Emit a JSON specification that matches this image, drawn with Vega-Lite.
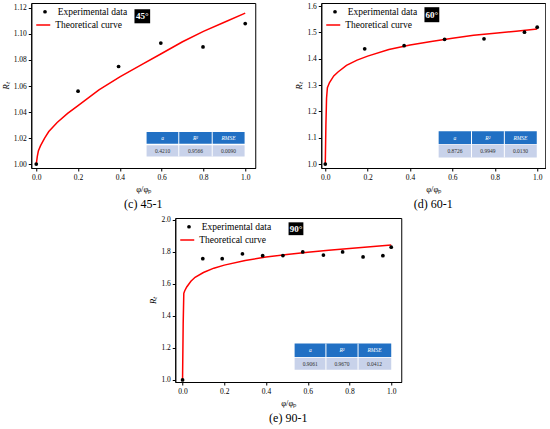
{
  "$schema": "https://vega.github.io/schema/vega-lite/v6.json",
  "padding": {"left": 0, "top": 1, "right": 0, "bottom": 0},
  "background": "white",
  "config": {
    "font": "Liberation Serif",
    "view": {"stroke": "black", "strokeWidth": 1},
    "axis": {
      "labelFont": "Liberation Serif", "labelFontSize": 7.5, "labelColor": "black", "labelOverlap": false,
      "titleFont": "Liberation Serif", "titleFontSize": 8.5, "titleFontWeight": "normal", "titleColor": "black",
      "domainColor": "black", "tickColor": "black", "tickSize": 3, "grid": false, "labelPadding": 2
    },
    "axisY": {"tickCount": 7, "titlePadding": 3},
    "axisX": {"tickCount": 6},
    "legend": {
      "labelFont": "Liberation Serif", "labelFontSize": 9.5, "labelColor": "black", "title": null,
      "orient": "none", "padding": 0
    },
    "title": {"font": "Liberation Serif", "fontSize": 12, "fontWeight": "normal", "color": "black", "orient": "bottom", "anchor": "middle", "offset": 6}
  },
  "datasets": {
    "exp": [
      {"panel": "c", "r": 0, "rt": 1.000, "series": "Experimental data"},
      {"panel": "c", "r": 0.200, "rt": 1.056, "series": "Experimental data"},
      {"panel": "c", "r": 0.394, "rt": 1.075, "series": "Experimental data"},
      {"panel": "c", "r": 0.596, "rt": 1.093, "series": "Experimental data"},
      {"panel": "c", "r": 0.798, "rt": 1.090, "series": "Experimental data"},
      {"panel": "c", "r": 1.000, "rt": 1.108, "series": "Experimental data"},
      {"panel": "d", "r": 0, "rt": 1.000, "series": "Experimental data"},
      {"panel": "d", "r": 0.186, "rt": 1.438, "series": "Experimental data"},
      {"panel": "d", "r": 0.372, "rt": 1.450, "series": "Experimental data"},
      {"panel": "d", "r": 0.563, "rt": 1.474, "series": "Experimental data"},
      {"panel": "d", "r": 0.749, "rt": 1.476, "series": "Experimental data"},
      {"panel": "d", "r": 0.940, "rt": 1.501, "series": "Experimental data"},
      {"panel": "d", "r": 1.000, "rt": 1.520, "series": "Experimental data"},
      {"panel": "e", "r": 0, "rt": 1.000, "series": "Experimental data"},
      {"panel": "e", "r": 0.097, "rt": 1.756, "series": "Experimental data"},
      {"panel": "e", "r": 0.190, "rt": 1.756, "series": "Experimental data"},
      {"panel": "e", "r": 0.287, "rt": 1.786, "series": "Experimental data"},
      {"panel": "e", "r": 0.384, "rt": 1.775, "series": "Experimental data"},
      {"panel": "e", "r": 0.481, "rt": 1.776, "series": "Experimental data"},
      {"panel": "e", "r": 0.576, "rt": 1.798, "series": "Experimental data"},
      {"panel": "e", "r": 0.675, "rt": 1.779, "series": "Experimental data"},
      {"panel": "e", "r": 0.767, "rt": 1.798, "series": "Experimental data"},
      {"panel": "e", "r": 0.865, "rt": 1.767, "series": "Experimental data"},
      {"panel": "e", "r": 0.960, "rt": 1.775, "series": "Experimental data"},
      {"panel": "e", "r": 1.000, "rt": 1.828, "series": "Experimental data"}
    ],
    "theory": [
      {"panel": "c", "r": 0, "rt": 1.000, "series": "Theoretical curve"}, {"panel": "c", "r": 0.005, "rt": 1.006, "series": "Theoretical curve"}, {"panel": "c", "r": 0.01, "rt": 1.010, "series": "Theoretical curve"},
      {"panel": "c", "r": 0.02, "rt": 1.014, "series": "Theoretical curve"}, {"panel": "c", "r": 0.04, "rt": 1.020, "series": "Theoretical curve"}, {"panel": "c", "r": 0.06, "rt": 1.025, "series": "Theoretical curve"},
      {"panel": "c", "r": 0.1, "rt": 1.032, "series": "Theoretical curve"}, {"panel": "c", "r": 0.15, "rt": 1.039, "series": "Theoretical curve"}, {"panel": "c", "r": 0.2, "rt": 1.045, "series": "Theoretical curve"},
      {"panel": "c", "r": 0.3, "rt": 1.057, "series": "Theoretical curve"}, {"panel": "c", "r": 0.4, "rt": 1.067, "series": "Theoretical curve"}, {"panel": "c", "r": 0.5, "rt": 1.076, "series": "Theoretical curve"},
      {"panel": "c", "r": 0.6, "rt": 1.085, "series": "Theoretical curve"}, {"panel": "c", "r": 0.7, "rt": 1.094, "series": "Theoretical curve"}, {"panel": "c", "r": 0.8, "rt": 1.102, "series": "Theoretical curve"},
      {"panel": "c", "r": 0.9, "rt": 1.109, "series": "Theoretical curve"}, {"panel": "c", "r": 1.0, "rt": 1.116, "series": "Theoretical curve"},
      {"panel": "d", "r": 0, "rt": 1.000, "series": "Theoretical curve"}, {"panel": "d", "r": 0.003, "rt": 1.15, "series": "Theoretical curve"}, {"panel": "d", "r": 0.006, "rt": 1.25, "series": "Theoretical curve"},
      {"panel": "d", "r": 0.01, "rt": 1.29, "series": "Theoretical curve"}, {"panel": "d", "r": 0.02, "rt": 1.31, "series": "Theoretical curve"}, {"panel": "d", "r": 0.04, "rt": 1.335, "series": "Theoretical curve"},
      {"panel": "d", "r": 0.06, "rt": 1.35, "series": "Theoretical curve"}, {"panel": "d", "r": 0.1, "rt": 1.375, "series": "Theoretical curve"}, {"panel": "d", "r": 0.15, "rt": 1.395, "series": "Theoretical curve"},
      {"panel": "d", "r": 0.2, "rt": 1.41, "series": "Theoretical curve"}, {"panel": "d", "r": 0.3, "rt": 1.435, "series": "Theoretical curve"}, {"panel": "d", "r": 0.4, "rt": 1.452, "series": "Theoretical curve"},
      {"panel": "d", "r": 0.5, "rt": 1.466, "series": "Theoretical curve"}, {"panel": "d", "r": 0.6, "rt": 1.478, "series": "Theoretical curve"}, {"panel": "d", "r": 0.7, "rt": 1.489, "series": "Theoretical curve"},
      {"panel": "d", "r": 0.8, "rt": 1.497, "series": "Theoretical curve"}, {"panel": "d", "r": 0.9, "rt": 1.505, "series": "Theoretical curve"}, {"panel": "d", "r": 1.0, "rt": 1.513, "series": "Theoretical curve"},
      {"panel": "e", "r": 0, "rt": 1.000, "series": "Theoretical curve"}, {"panel": "e", "r": 0.003, "rt": 1.35, "series": "Theoretical curve"}, {"panel": "e", "r": 0.006, "rt": 1.54, "series": "Theoretical curve"},
      {"panel": "e", "r": 0.01, "rt": 1.555, "series": "Theoretical curve"}, {"panel": "e", "r": 0.02, "rt": 1.58, "series": "Theoretical curve"}, {"panel": "e", "r": 0.04, "rt": 1.615, "series": "Theoretical curve"},
      {"panel": "e", "r": 0.06, "rt": 1.64, "series": "Theoretical curve"}, {"panel": "e", "r": 0.1, "rt": 1.67, "series": "Theoretical curve"}, {"panel": "e", "r": 0.15, "rt": 1.697, "series": "Theoretical curve"},
      {"panel": "e", "r": 0.2, "rt": 1.716, "series": "Theoretical curve"}, {"panel": "e", "r": 0.3, "rt": 1.745, "series": "Theoretical curve"}, {"panel": "e", "r": 0.4, "rt": 1.766, "series": "Theoretical curve"},
      {"panel": "e", "r": 0.5, "rt": 1.782, "series": "Theoretical curve"}, {"panel": "e", "r": 0.6, "rt": 1.797, "series": "Theoretical curve"}, {"panel": "e", "r": 0.7, "rt": 1.809, "series": "Theoretical curve"},
      {"panel": "e", "r": 0.8, "rt": 1.82, "series": "Theoretical curve"}, {"panel": "e", "r": 0.9, "rt": 1.831, "series": "Theoretical curve"}, {"panel": "e", "r": 1.0, "rt": 1.841, "series": "Theoretical curve"}
    ],
    "stats": [
      {"panel": "c", "stat": "a", "val": "0.4210"}, {"panel": "c", "stat": "R²", "val": "0.9566"}, {"panel": "c", "stat": "RMSE", "val": "0.0090"},
      {"panel": "d", "stat": "a", "val": "0.8726"}, {"panel": "d", "stat": "R²", "val": "0.9949"}, {"panel": "d", "stat": "RMSE", "val": "0.0130"},
      {"panel": "e", "stat": "a", "val": "0.9061"}, {"panel": "e", "stat": "R²", "val": "0.9670"}, {"panel": "e", "stat": "RMSE", "val": "0.0412"}
    ],
    "one": [{}]
  },
  "resolve": {"scale": {"fill": "independent", "stroke": "independent"}, "legend": {"fill": "independent", "stroke": "independent"}},
  "center": true,
  "spacing": 4,
  "vconcat": [
    {
      "hconcat": [
        {
          "width": 224, "height": 165,
          "title": "(c) 45-1",
          "layer": [
            {"data": {"name": "one"}, "mark": {"type": "rect", "fill": "#2170c4"}, "encoding": {"x": {"datum": 0.528}, "x2": {"datum": 0.997}, "y": {"datum": 1.0157}, "y2": {"datum": 1.0246}}},
            {"data": {"name": "one"}, "mark": {"type": "rect", "fill": "#c8d2ea"}, "encoding": {"x": {"datum": 0.528}, "x2": {"datum": 0.997}, "y": {"datum": 1.0059}, "y2": {"datum": 1.0144}}},
            {"data": {"name": "one"}, "mark": {"type": "rule", "color": "white", "strokeWidth": 1}, "encoding": {"x": {"datum": 0.682}, "y": {"datum": 1.0059}, "y2": {"datum": 1.0246}}},
            {"data": {"name": "one"}, "mark": {"type": "rule", "color": "white", "strokeWidth": 1}, "encoding": {"x": {"datum": 0.842}, "y": {"datum": 1.0059}, "y2": {"datum": 1.0246}}},
            {"data": {"name": "stats"}, "transform": [{"filter": "datum.panel == 'c' && datum.stat == 'a'"}], "mark": {"type": "text", "color": "white", "fontSize": 5.5, "fontStyle": "italic"}, "encoding": {"x": {"datum": 0.605}, "y": {"datum": 1.0201}, "text": {"field": "stat"}}},
            {"data": {"name": "stats"}, "transform": [{"filter": "datum.panel == 'c' && datum.stat == 'R²'"}], "mark": {"type": "text", "color": "white", "fontSize": 5.5, "fontStyle": "italic"}, "encoding": {"x": {"datum": 0.762}, "y": {"datum": 1.0201}, "text": {"field": "stat"}}},
            {"data": {"name": "stats"}, "transform": [{"filter": "datum.panel == 'c' && datum.stat == 'RMSE'"}], "mark": {"type": "text", "color": "white", "fontSize": 5.5, "fontStyle": "italic"}, "encoding": {"x": {"datum": 0.92}, "y": {"datum": 1.0201}, "text": {"field": "stat"}}},
            {"data": {"name": "stats"}, "transform": [{"filter": "datum.panel == 'c' && datum.stat == 'a'"}], "mark": {"type": "text", "color": "#333", "fontSize": 5.5}, "encoding": {"x": {"datum": 0.605}, "y": {"datum": 1.0101}, "text": {"field": "val"}}},
            {"data": {"name": "stats"}, "transform": [{"filter": "datum.panel == 'c' && datum.stat == 'R²'"}], "mark": {"type": "text", "color": "#333", "fontSize": 5.5}, "encoding": {"x": {"datum": 0.762}, "y": {"datum": 1.0101}, "text": {"field": "val"}}},
            {"data": {"name": "stats"}, "transform": [{"filter": "datum.panel == 'c' && datum.stat == 'RMSE'"}], "mark": {"type": "text", "color": "#333", "fontSize": 5.5}, "encoding": {"x": {"datum": 0.92}, "y": {"datum": 1.0101}, "text": {"field": "val"}}},
            {"data": {"name": "one"}, "mark": {"type": "rect", "fill": "black"}, "encoding": {"x": {"datum": 0.47}, "x2": {"datum": 0.545}, "y": {"datum": 1.1082}, "y2": {"datum": 1.119}}},
            {"data": {"name": "one"}, "mark": {"type": "text", "color": "white", "fontSize": 9, "fontWeight": "bold", "text": "45°"}, "encoding": {"x": {"datum": 0.507}, "y": {"datum": 1.1136}}},
            {
              "data": {"name": "theory"}, "transform": [{"filter": "datum.panel == 'c'"}],
              "mark": {"type": "line", "strokeWidth": 1.5},
              "encoding": {
                "x": {"field": "r", "type": "quantitative", "scale": {"domain": [-0.024, 1.048], "nice": false, "zero": false}, "axis": {"title": "φ/φₚ", "values": [0, 0.2, 0.4, 0.6, 0.8, 1], "format": ".1f"}},
                "y": {"field": "rt", "type": "quantitative", "scale": {"domain": [0.997, 1.1238], "nice": false, "zero": false}, "axis": {"title": "Rₜ", "titleFontStyle": "italic", "values": [1, 1.02, 1.04, 1.06, 1.08, 1.1, 1.12], "format": ".2f"}},
                "stroke": {"field": "series", "type": "nominal", "scale": {"range": ["red"]}, "legend": {"legendX": 4, "legendY": 14, "labelOffset": 4, "symbolType": "stroke", "symbolSize": 196, "symbolStrokeWidth": 1.5, "symbolStrokeColor": "red"}}
              }
            },
            {
              "data": {"name": "exp"}, "transform": [{"filter": "datum.panel == 'c'"}],
              "mark": {"type": "point", "filled": true, "size": 14, "opacity": 1},
              "encoding": {
                "x": {"field": "r", "type": "quantitative"},
                "y": {"field": "rt", "type": "quantitative"},
                "fill": {"field": "series", "type": "nominal", "scale": {"range": ["black"]}, "legend": {"legendX": 9, "legendY": 4, "labelOffset": 8, "symbolType": "circle", "symbolSize": 14}}
              }
            }
          ]
        },
        {
          "width": 224, "height": 165,
          "title": "(d) 60-1",
          "layer": [
            {"data": {"name": "one"}, "mark": {"type": "rect", "fill": "#2170c4"}, "encoding": {"x": {"datum": 0.535}, "x2": {"datum": 0.998}, "y": {"datum": 1.076}, "y2": {"datum": 1.125}}},
            {"data": {"name": "one"}, "mark": {"type": "rect", "fill": "#c8d2ea"}, "encoding": {"x": {"datum": 0.535}, "x2": {"datum": 0.998}, "y": {"datum": 1.025}, "y2": {"datum": 1.074}}},
            {"data": {"name": "one"}, "mark": {"type": "rule", "color": "white", "strokeWidth": 1}, "encoding": {"x": {"datum": 0.69}, "y": {"datum": 1.025}, "y2": {"datum": 1.125}}},
            {"data": {"name": "one"}, "mark": {"type": "rule", "color": "white", "strokeWidth": 1}, "encoding": {"x": {"datum": 0.845}, "y": {"datum": 1.025}, "y2": {"datum": 1.125}}},
            {"data": {"name": "stats"}, "transform": [{"filter": "datum.panel == 'd' && datum.stat == 'a'"}], "mark": {"type": "text", "color": "white", "fontSize": 5.5, "fontStyle": "italic"}, "encoding": {"x": {"datum": 0.612}, "y": {"datum": 1.1005}, "text": {"field": "stat"}}},
            {"data": {"name": "stats"}, "transform": [{"filter": "datum.panel == 'd' && datum.stat == 'R²'"}], "mark": {"type": "text", "color": "white", "fontSize": 5.5, "fontStyle": "italic"}, "encoding": {"x": {"datum": 0.767}, "y": {"datum": 1.1005}, "text": {"field": "stat"}}},
            {"data": {"name": "stats"}, "transform": [{"filter": "datum.panel == 'd' && datum.stat == 'RMSE'"}], "mark": {"type": "text", "color": "white", "fontSize": 5.5, "fontStyle": "italic"}, "encoding": {"x": {"datum": 0.921}, "y": {"datum": 1.1005}, "text": {"field": "stat"}}},
            {"data": {"name": "stats"}, "transform": [{"filter": "datum.panel == 'd' && datum.stat == 'a'"}], "mark": {"type": "text", "color": "#333", "fontSize": 5.5}, "encoding": {"x": {"datum": 0.612}, "y": {"datum": 1.0495}, "text": {"field": "val"}}},
            {"data": {"name": "stats"}, "transform": [{"filter": "datum.panel == 'd' && datum.stat == 'R²'"}], "mark": {"type": "text", "color": "#333", "fontSize": 5.5}, "encoding": {"x": {"datum": 0.767}, "y": {"datum": 1.0495}, "text": {"field": "val"}}},
            {"data": {"name": "stats"}, "transform": [{"filter": "datum.panel == 'd' && datum.stat == 'RMSE'"}], "mark": {"type": "text", "color": "#333", "fontSize": 5.5}, "encoding": {"x": {"datum": 0.921}, "y": {"datum": 1.0495}, "text": {"field": "val"}}},
            {"data": {"name": "one"}, "mark": {"type": "rect", "fill": "black"}, "encoding": {"x": {"datum": 0.468}, "x2": {"datum": 0.538}, "y": {"datum": 1.539}, "y2": {"datum": 1.596}}},
            {"data": {"name": "one"}, "mark": {"type": "text", "color": "white", "fontSize": 9, "fontWeight": "bold", "text": "60°"}, "encoding": {"x": {"datum": 0.503}, "y": {"datum": 1.5675}}},
            {
              "data": {"name": "theory"}, "transform": [{"filter": "datum.panel == 'd'"}],
              "mark": {"type": "line", "strokeWidth": 1.5},
              "encoding": {
                "x": {"field": "r", "type": "quantitative", "scale": {"domain": [-0.019, 1.038], "nice": false, "zero": false}, "axis": {"title": "φ/φₚ", "values": [0, 0.2, 0.4, 0.6, 0.8, 1], "format": ".1f"}},
                "y": {"field": "rt", "type": "quantitative", "scale": {"domain": [0.985, 1.612], "nice": false, "zero": false}, "axis": {"title": "Rₜ", "titleFontStyle": "italic", "values": [1, 1.1, 1.2, 1.3, 1.4, 1.5, 1.6], "format": ".1f"}},
                "stroke": {"field": "series", "type": "nominal", "scale": {"range": ["red"]}, "legend": {"legendX": 4, "legendY": 14, "labelOffset": 4, "symbolType": "stroke", "symbolSize": 196, "symbolStrokeWidth": 1.5, "symbolStrokeColor": "red"}}
              }
            },
            {
              "data": {"name": "exp"}, "transform": [{"filter": "datum.panel == 'd'"}],
              "mark": {"type": "point", "filled": true, "size": 14, "opacity": 1},
              "encoding": {
                "x": {"field": "r", "type": "quantitative"},
                "y": {"field": "rt", "type": "quantitative"},
                "fill": {"field": "series", "type": "nominal", "scale": {"range": ["black"]}, "legend": {"legendX": 9, "legendY": 4, "labelOffset": 8, "symbolType": "circle", "symbolSize": 14}}
              }
            }
          ]
        }
      ],
      "spacing": 38,
      "resolve": {"scale": {"fill": "independent", "stroke": "independent"}, "legend": {"fill": "independent", "stroke": "independent"}}
    },
    {
      "width": 226, "height": 164,
      "title": "(e) 90-1",
      "layer": [
        {"data": {"name": "one"}, "mark": {"type": "rect", "fill": "#2170c4"}, "encoding": {"x": {"datum": 0.537}, "x2": {"datum": 1.0}, "y": {"datum": 1.143}, "y2": {"datum": 1.227}}},
        {"data": {"name": "one"}, "mark": {"type": "rect", "fill": "#c8d2ea"}, "encoding": {"x": {"datum": 0.537}, "x2": {"datum": 1.0}, "y": {"datum": 1.063}, "y2": {"datum": 1.139}}},
        {"data": {"name": "one"}, "mark": {"type": "rule", "color": "white", "strokeWidth": 1}, "encoding": {"x": {"datum": 0.687}, "y": {"datum": 1.063}, "y2": {"datum": 1.227}}},
        {"data": {"name": "one"}, "mark": {"type": "rule", "color": "white", "strokeWidth": 1}, "encoding": {"x": {"datum": 0.841}, "y": {"datum": 1.063}, "y2": {"datum": 1.227}}},
        {"data": {"name": "stats"}, "transform": [{"filter": "datum.panel == 'e' && datum.stat == 'a'"}], "mark": {"type": "text", "color": "white", "fontSize": 5.5, "fontStyle": "italic"}, "encoding": {"x": {"datum": 0.612}, "y": {"datum": 1.185}, "text": {"field": "stat"}}},
        {"data": {"name": "stats"}, "transform": [{"filter": "datum.panel == 'e' && datum.stat == 'R²'"}], "mark": {"type": "text", "color": "white", "fontSize": 5.5, "fontStyle": "italic"}, "encoding": {"x": {"datum": 0.764}, "y": {"datum": 1.185}, "text": {"field": "stat"}}},
        {"data": {"name": "stats"}, "transform": [{"filter": "datum.panel == 'e' && datum.stat == 'RMSE'"}], "mark": {"type": "text", "color": "white", "fontSize": 5.5, "fontStyle": "italic"}, "encoding": {"x": {"datum": 0.92}, "y": {"datum": 1.185}, "text": {"field": "stat"}}},
        {"data": {"name": "stats"}, "transform": [{"filter": "datum.panel == 'e' && datum.stat == 'a'"}], "mark": {"type": "text", "color": "#333", "fontSize": 5.5}, "encoding": {"x": {"datum": 0.612}, "y": {"datum": 1.101}, "text": {"field": "val"}}},
        {"data": {"name": "stats"}, "transform": [{"filter": "datum.panel == 'e' && datum.stat == 'R²'"}], "mark": {"type": "text", "color": "#333", "fontSize": 5.5}, "encoding": {"x": {"datum": 0.764}, "y": {"datum": 1.101}, "text": {"field": "val"}}},
        {"data": {"name": "stats"}, "transform": [{"filter": "datum.panel == 'e' && datum.stat == 'RMSE'"}], "mark": {"type": "text", "color": "#333", "fontSize": 5.5}, "encoding": {"x": {"datum": 0.92}, "y": {"datum": 1.101}, "text": {"field": "val"}}},
        {"data": {"name": "one"}, "mark": {"type": "rect", "fill": "black"}, "encoding": {"x": {"datum": 0.508}, "x2": {"datum": 0.579}, "y": {"datum": 1.903}, "y2": {"datum": 1.983}}},
        {"data": {"name": "one"}, "mark": {"type": "text", "color": "white", "fontSize": 9, "fontWeight": "bold", "text": "90°"}, "encoding": {"x": {"datum": 0.5435}, "y": {"datum": 1.943}}},
        {
          "data": {"name": "theory"}, "transform": [{"filter": "datum.panel == 'e'"}],
          "mark": {"type": "line", "strokeWidth": 1.5},
          "encoding": {
            "x": {"field": "r", "type": "quantitative", "scale": {"domain": [-0.035, 1.048], "nice": false, "zero": false}, "axis": {"title": "φ/φₚ", "values": [0, 0.2, 0.4, 0.6, 0.8, 1], "format": ".1f"}},
            "y": {"field": "rt", "type": "quantitative", "scale": {"domain": [0.987, 2.01], "nice": false, "zero": false}, "axis": {"title": "Rₜ", "titleFontStyle": "italic", "values": [1, 1.2, 1.4, 1.6, 1.8, 2], "format": ".1f"}},
            "stroke": {"field": "series", "type": "nominal", "scale": {"range": ["red"]}, "legend": {"legendX": 4, "legendY": 14, "labelOffset": 4, "symbolType": "stroke", "symbolSize": 196, "symbolStrokeWidth": 1.5, "symbolStrokeColor": "red"}}
          }
        },
        {
          "data": {"name": "exp"}, "transform": [{"filter": "datum.panel == 'e'"}],
          "mark": {"type": "point", "filled": true, "size": 14, "opacity": 1},
          "encoding": {
            "x": {"field": "r", "type": "quantitative"},
            "y": {"field": "rt", "type": "quantitative"},
            "fill": {"field": "series", "type": "nominal", "scale": {"range": ["black"]}, "legend": {"legendX": 9, "legendY": 4, "labelOffset": 8, "symbolType": "circle", "symbolSize": 14}}
          }
        }
      ]
    }
  ]
}
